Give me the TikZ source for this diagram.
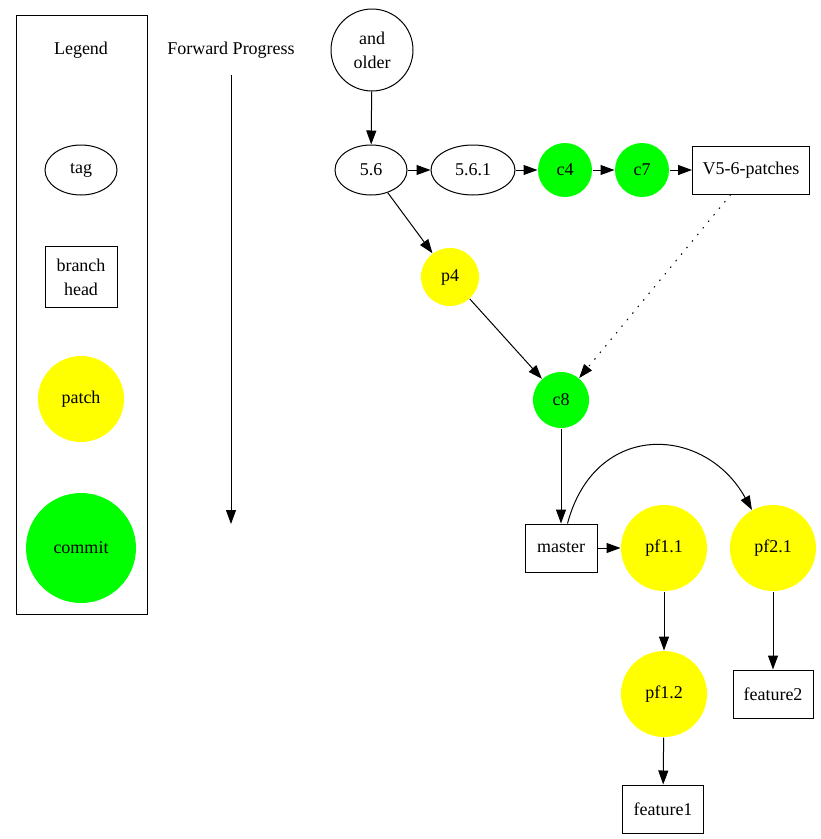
\documentclass[tikz,border=0pt]{standalone}
\usepackage{fontspec}
\setmainfont{Liberation Serif}
\usepackage{tikz}
\usetikzlibrary{arrows.meta}
\usetikzlibrary{shapes.geometric}

\definecolor{patchyellow}{RGB}{255,255,0}
\definecolor{commitgreen}{RGB}{0,255,0}

\tikzset{
	tagnode/.style={draw,ellipse,minimum width=#1,minimum height=50pt,inner sep=0pt},
	headnode/.style={draw,rectangle,minimum height=48pt,inner sep=0pt},
	patchnode/.style={circle,fill=patchyellow,minimum size=#1,inner sep=0pt},
	commitnode/.style={circle,fill=commitgreen,minimum size=#1,inner sep=0pt},
	edge/.style={line width=1pt,arrows=-{Triangle[length=14pt,width=10pt]}}
}

\begin{document}
\begin{tikzpicture}[x=1pt,y=-1pt,line width=1pt,every node/.style={font=\fontsize{18}{24}\selectfont,align=center}]
	\useasboundingbox (0,0) rectangle (821,839);
	% legend
	\draw (16,15) rectangle (147,614);
	\node (legend) at (81,50) {Legend};
	\node[tagnode=72pt] (ltag) at (81,170) {tag};
	\node[headnode,minimum width=72pt,minimum height=61pt] (lhead) at (81,277) {branch\\head};
	\node[patchnode=86pt] (lpatch) at (81,399) {patch};
	\node[commitnode=110pt] (lcommit) at (81,548) {commit};
	\node (fwd) at (231,50) {Forward Progress};
	\coordinate (fwdtop) at (231,75);
	\coordinate (fwdend) at (231,524);
	\draw[edge] (fwdtop) -- (fwdend);
	% history
	\node[draw,circle,minimum size=82pt,inner sep=0pt] (older) at (372,50) {and\\older};
	\node[tagnode=72pt] (v56) at (371,170) {5.6};
	\node[tagnode=84pt] (v561) at (473,170) {5.6.1};
	\node[commitnode=54pt] (c4) at (565,170) {c4};
	\node[commitnode=54pt] (c7) at (642,170) {c7};
	\node[headnode,minimum width=117pt] (patches) at (751,170) {V5-6-patches};
	\node[patchnode=58pt] (p4) at (450,277) {p4};
	\node[commitnode=56pt] (c8) at (561,400) {c8};
	\node[headnode,minimum width=72pt] (master) at (561,548) {master};
	\node[patchnode=86pt] (pf11) at (664,548) {pf1.1};
	\node[patchnode=86pt] (pf21) at (773,548) {pf2.1};
	\node[patchnode=86pt] (pf12) at (664,694) {pf1.2};
	\node[headnode,minimum width=81pt] (feature1) at (663,809) {feature1};
	\node[headnode,minimum width=80pt] (feature2) at (773,694) {feature2};
	\draw[edge] (older) -- (v56);
	\draw[edge] (v56) -- (v561);
	\draw[edge] (v561) -- (c4);
	\draw[edge] (c4) -- (c7);
	\draw[edge] (c7) -- (patches);
	\draw[edge] (v56) -- (p4);
	\draw[edge] (p4) -- (c8);
	\draw[edge,dash pattern=on 1.5pt off 7pt] (patches) -- (c8);
	\draw[edge] (c8) -- (master);
	\draw[edge] (master) -- (pf11);
	\draw[edge] (master) .. controls (595,420) and (705,425) .. (pf21);
	\draw[edge] (pf11) -- (pf12);
	\draw[edge] (pf12) -- (feature1);
	\draw[edge] (pf21) -- (feature2);
\end{tikzpicture}
\end{document}
